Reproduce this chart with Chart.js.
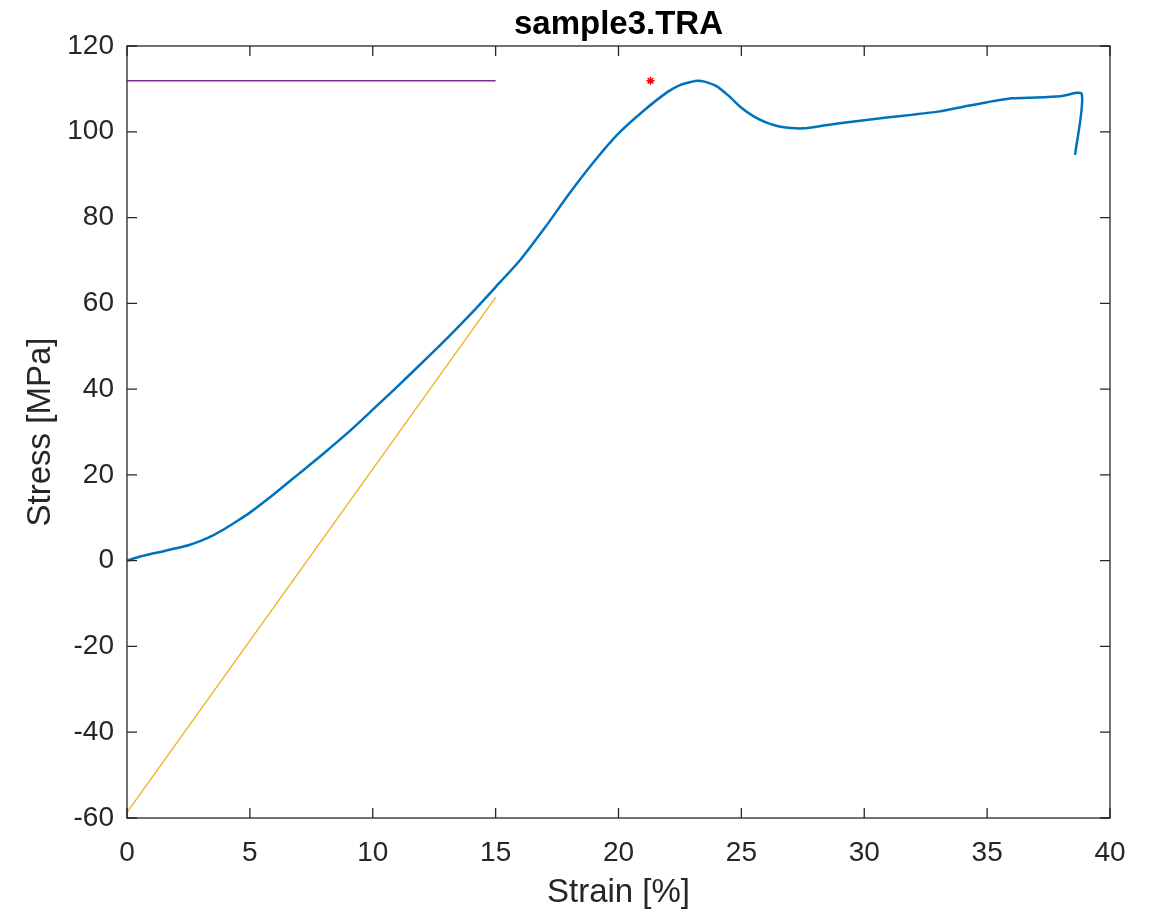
<!DOCTYPE html>
<html>
<head>
<meta charset="utf-8">
<title>sample3.TRA</title>
<script src="https://cdn.jsdelivr.net/npm/chart.js@4"></script>
<style>
  body { margin: 0; background: #fff; }
  canvas { display: block; }
</style>
</head>
<body>
<canvas id="myChart" width="1151" height="914"></canvas>
<script>
// measured curve (strain in %, stress in MPa)
const strain = [0, 0.5, 1, 1.5, 2, 2.5, 3, 3.5, 4, 4.5, 5, 6, 7, 8, 9, 10, 11, 12, 13, 14, 15, 16, 17, 18, 19, 20, 21, 22, 22.5, 23, 23.2, 23.5, 24, 24.5, 25, 25.5, 26, 26.5, 27, 27.5, 28, 28.5, 29, 30, 31, 32, 33, 34, 35, 36, 37, 38, 38.85, 38.58];
const stress = [0, 0.9, 1.6, 2.2, 2.9, 3.6, 4.6, 5.9, 7.5, 9.3, 11.2, 15.6, 20.3, 25.0, 29.9, 35.2, 40.6, 46.1, 51.7, 57.6, 63.8, 70.1, 77.6, 85.6, 93.0, 99.6, 104.8, 109.3, 110.9, 111.7, 111.9, 111.7, 110.6, 108.3, 105.6, 103.6, 102.2, 101.3, 100.9, 100.8, 101.1, 101.6, 102.0, 102.7, 103.4, 104.0, 104.7, 105.8, 106.9, 107.8, 108.0, 108.3, 108.8, 94.6];

// offset modulus line
const fitStrain = [0, 15];
const fitStress = [-58.7, 61.4];

// max stress line
const maxStrain = [0, 15];
const maxStress = [111.9, 111.9];

// marked point
const peakStrain = [21.3];
const peakStress = [111.9];

// tick values
const xTicks = [0, 5, 10, 15, 20, 25, 30, 35, 40];
const yTicks = [-60, -40, -20, 0, 20, 40, 60, 80, 100, 120];

function toPoints(xs, ys) {
  return xs.map((x, i) => ({x: x, y: ys[i]}));
}

const axisColor = '#262626';
const fontName = "'Liberation Sans', Arial, Helvetica, sans-serif";

// MATLAB style box with ticks pointing inward + title
const boxPlugin = {
  id: 'box',
  afterDatasetsDraw(chart) {
    const ctx = chart.ctx;
    const a = chart.chartArea;
    const xs = chart.scales.x;
    const ys = chart.scales.y;
    ctx.save();
    ctx.strokeStyle = axisColor;
    ctx.lineWidth = 1.3;
    ctx.strokeRect(a.left, a.top, a.right - a.left, a.bottom - a.top);
    ctx.beginPath();
    xTicks.forEach(v => {
      const px = xs.getPixelForValue(v);
      ctx.moveTo(px, a.bottom); ctx.lineTo(px, a.bottom - 10);
      ctx.moveTo(px, a.top); ctx.lineTo(px, a.top + 10);
    });
    yTicks.forEach(v => {
      const py = ys.getPixelForValue(v);
      ctx.moveTo(a.left, py); ctx.lineTo(a.left + 10, py);
      ctx.moveTo(a.right, py); ctx.lineTo(a.right - 10, py);
    });
    ctx.stroke();

    ctx.fillStyle = '#000';
    ctx.font = "bold 33px " + fontName;
    ctx.textAlign = 'center';
    ctx.textBaseline = 'alphabetic';
    ctx.fillText('sample3.TRA', (a.left + a.right) / 2, 34);
    ctx.restore();
  }
};

const myChart = document.getElementById('myChart');

let lineChart = new Chart(myChart, {
  type: 'scatter',
  data: {
    datasets: [
      {
        label: 'curve',
        data: toPoints(strain, stress),
        showLine: true,
        borderColor: '#0072BD',
        borderWidth: 2.5,
        pointRadius: 0,
        tension: 0.25
      },
      {
        label: 'fit',
        data: toPoints(fitStrain, fitStress),
        showLine: true,
        borderColor: '#EDB120',
        borderWidth: 1.3,
        pointRadius: 0
      },
      {
        label: 'max',
        data: toPoints(maxStrain, maxStress),
        showLine: true,
        borderColor: '#7E2F8E',
        borderWidth: 1.3,
        pointRadius: 0
      },
      {
        label: 'peak',
        data: toPoints(peakStrain, peakStress),
        showLine: false,
        pointStyle: 'star',
        pointRadius: 4,
        borderColor: '#FF0000',
        borderWidth: 1.5,
        backgroundColor: '#FF0000'
      }
    ]
  },
  options: {
    responsive: false,
    animation: false,
    layout: {
      padding: {top: 46, right: 41, left: 0, bottom: 0}
    },
    plugins: {
      legend: {display: false},
      tooltip: {enabled: false}
    },
    scales: {
      x: {
        type: 'linear',
        min: 0,
        max: 40,
        afterFit: scale => { scale.height = 96; },
        afterBuildTicks: scale => { scale.ticks = xTicks.map(v => ({value: v})); },
        grid: {display: false, drawTicks: false},
        border: {display: false},
        ticks: {
          padding: 18,
          color: axisColor,
          font: {family: fontName, size: 28}
        },
        title: {
          display: true,
          text: 'Strain [%]',
          color: axisColor,
          font: {family: fontName, size: 33},
          padding: {top: 0, bottom: 1}
        }
      },
      y: {
        type: 'linear',
        min: -60,
        max: 120,
        afterFit: scale => { scale.width = 127; },
        afterBuildTicks: scale => { scale.ticks = yTicks.map(v => ({value: v})); },
        grid: {display: false, drawTicks: false},
        border: {display: false},
        ticks: {
          padding: 13,
          color: axisColor,
          font: {family: fontName, size: 28}
        },
        title: {
          display: true,
          text: 'Stress [MPa]',
          color: axisColor,
          font: {family: fontName, size: 33},
          padding: {top: 21, bottom: 0}
        }
      }
    }
  },
  plugins: [boxPlugin]
});
</script>
</body>
</html>
